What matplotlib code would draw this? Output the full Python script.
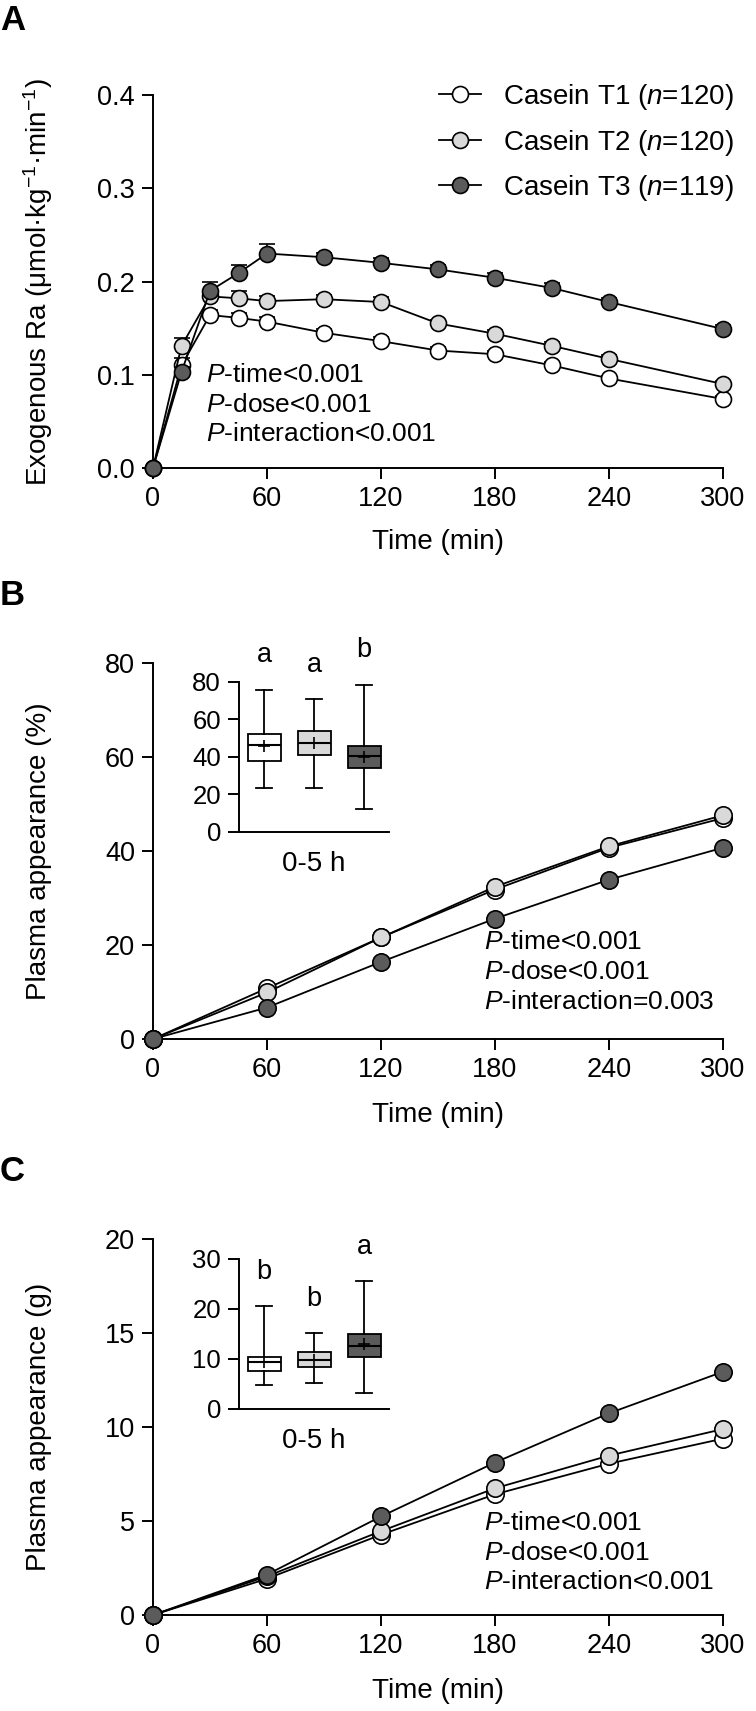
import matplotlib
matplotlib.use("Agg")
import matplotlib.pyplot as plt

plt.rcParams["font.family"] = ["Liberation Sans", "DejaVu Sans"]
plt.rcParams["mathtext.fontset"] = "custom"
plt.rcParams["mathtext.rm"] = "Liberation Sans"
plt.rcParams["mathtext.it"] = "Liberation Sans:italic"
plt.rcParams["mathtext.default"] = "regular"

# ---- data ----
groups = ["Casein T1", "Casein T2", "Casein T3"]
n_sizes = [120, 120, 119]
fills = ["#ffffff", "#d9d9d9", "#5b5b5b"]

# panel A: exogenous Ra
time_a = [0, 15, 30, 45, 60, 90, 120, 150, 180, 210, 240, 300]
ra_t1 = [0.0, 0.110, 0.164, 0.161, 0.157, 0.145, 0.136, 0.126, 0.122, 0.110, 0.096, 0.074]
ra_t2 = [0.0, 0.131, 0.184, 0.182, 0.179, 0.181, 0.178, 0.155, 0.144, 0.131, 0.117, 0.090]
ra_t3 = [0.0, 0.103, 0.190, 0.209, 0.230, 0.226, 0.220, 0.213, 0.204, 0.193, 0.178, 0.149]
sem_t1 = [0.0, 0.008, 0.005, 0.005, 0.005, 0.004, 0.004, 0.004, 0.004, 0.004, 0.003, 0.003]
sem_t2 = [0.0, 0.008, 0.005, 0.008, 0.005, 0.005, 0.005, 0.004, 0.004, 0.004, 0.004, 0.003]
sem_t3 = [0.0, 0.005, 0.009, 0.009, 0.010, 0.005, 0.005, 0.005, 0.005, 0.005, 0.004, 0.004]

# panels B and C: cumulative plasma appearance
time_bc = [0, 60, 120, 180, 240, 300]
pct_t1 = [0, 10.8, 21.6, 31.8, 40.7, 47.0]
pct_t2 = [0, 9.9, 21.6, 32.4, 41.0, 47.6]
pct_t3 = [0, 6.7, 16.4, 25.6, 33.9, 40.7]
gram_t1 = [0, 1.93, 4.27, 6.42, 8.05, 9.38]
gram_t2 = [0, 2.06, 4.46, 6.74, 8.48, 9.89]
gram_t3 = [0, 2.15, 5.24, 8.11, 10.73, 12.94]

# insets (0-5 h totals): whisker low, Q1, median, Q3, whisker high, mean
pct_box_lo = [23.7, 23.2, 12.5]
pct_box_q1 = [38.1, 41.3, 34.0]
pct_box_med = [46.3, 47.4, 40.3]
pct_box_q3 = [52.0, 53.6, 45.6]
pct_box_hi = [75.7, 70.7, 78.2]
pct_box_mean = [46.0, 47.2, 40.1]
pct_letters = ["a", "a", "b"]
pct_letter_y = [90.8, 85.5, 93.2]

gram_box_lo = [4.8, 5.3, 3.3]
gram_box_q1 = [7.7, 8.5, 10.4]
gram_box_med = [9.5, 9.8, 12.7]
gram_box_q3 = [10.5, 11.4, 15.1]
gram_box_hi = [20.7, 15.3, 25.6]
gram_box_mean = [9.4, 9.8, 13.0]
gram_letters = ["b", "b", "a"]
gram_letter_y = [26.0, 20.5, 31.0]

p_text_a = ["P-time<0.001", "P-dose<0.001", "P-interaction<0.001"]
p_text_b = ["P-time<0.001", "P-dose<0.001", "P-interaction=0.003"]
p_text_c = ["P-time<0.001", "P-dose<0.001", "P-interaction<0.001"]

W, H = 756, 1711
fig = plt.figure(figsize=(W / 100, H / 100), dpi=100)

LW = 1.4
TICK_FS = 19.5
MS_A = 11.5
MS_BC = 12.5


def px_axes(left, top, right, bottom):
    return fig.add_axes([left / W, 1 - bottom / H, (right - left) / W, (bottom - top) / H])


def style_axes(ax, fs=TICK_FS):
    for s in ["top", "right"]:
        ax.spines[s].set_visible(False)
    for s in ["left", "bottom"]:
        ax.spines[s].set_linewidth(LW)
    ax.tick_params(direction="out", length=8, width=LW, labelsize=fs, pad=5)


def p_lines(ax, x, y0, dy, lines):
    for i, t in enumerate(lines):
        head, rest = t.split("-", 1)
        ax.text(x, y0 - i * dy, r"$\mathit{%s}$-%s" % (head, rest),
                fontsize=19, va="center", ha="left")


# ---------------- panel A ----------------
axA = px_axes(153, 95, 723, 468)
style_axes(axA)
series_a = [(ra_t1, sem_t1), (ra_t2, sem_t2), (ra_t3, sem_t3)]
for i, (vals, sem) in enumerate(series_a):
    axA.errorbar(time_a, vals, yerr=[[0] * len(sem), sem], fmt="none", ecolor="black",
                 elinewidth=1.2, capsize=6, capthick=1.2, zorder=2 + i, clip_on=False)
    axA.plot(time_a, vals, "-o", color="black", lw=1.3, ms=MS_A, mfc=fills[i], mec="black",
             mew=1.2, zorder=3 + i, clip_on=False,
             label=r"%s ($\mathit{n}$=%d)" % (groups[i], n_sizes[i]))
axA.set_xlim(0, 300)
axA.set_ylim(0, 0.4)
axA.set_xticks([0, 60, 120, 180, 240, 300])
axA.set_yticks([0.0, 0.1, 0.2, 0.3, 0.4])
axA.set_yticklabels(["0.0", "0.1", "0.2", "0.3", "0.4"])
axA.set_xlabel("Time (min)", fontsize=20, labelpad=12)
axA.set_ylabel(r"Exogenous Ra (μmol·kg$^{-1}$·min$^{-1}$)", fontsize=20)
axA.yaxis.label.set_verticalalignment("center")
axA.yaxis.set_label_coords((38 - 153) / 570, 0.5)
p_lines(axA, 28, 0.100, 0.032, p_text_a)
axA.legend(loc="upper right", bbox_to_anchor=(1.0, 1 - 60 / H), bbox_transform=fig.transFigure,
           frameon=False, fontsize=20, handlelength=1.5, handletextpad=0.8,
           labelspacing=0.55, borderpad=0.3)

# ---------------- panels B and C ----------------
def cumulative_panel(top, bottom, ymax, ystep, t1, t2, t3, ylabel):
    ax = px_axes(153, top, 723, bottom)
    style_axes(ax)
    for i, vals in enumerate([t1, t2, t3]):
        ax.plot(time_bc, vals, "-o", color="black", lw=1.3, ms=MS_BC, mfc=fills[i], mec="black",
                mew=1.2, zorder=3 + i, clip_on=False)
    ax.set_xlim(0, 300)
    ax.set_ylim(0, ymax)
    ax.set_xticks([0, 60, 120, 180, 240, 300])
    ax.set_yticks(list(range(0, ymax + 1, ystep)))
    ax.set_xlabel("Time (min)", fontsize=20, labelpad=14)
    ax.set_ylabel(ylabel, fontsize=20)
    ax.yaxis.label.set_verticalalignment("center")
    ax.yaxis.set_label_coords((39 - 153) / 570, 0.5)
    return ax


def box_inset(top, bottom, ymax, ystep, lo, q1, med, q3, hi, mean, letters, letter_y):
    ax = px_axes(239, top, 389, bottom)
    style_axes(ax, fs=18.5)
    stats = []
    for i in range(3):
        stats.append({"whislo": lo[i], "q1": q1[i], "med": med[i], "q3": q3[i],
                      "whishi": hi[i], "mean": mean[i]})
    bp = ax.bxp(stats, positions=[1, 2, 3], widths=0.66, showmeans=True, showfliers=False,
                patch_artist=True,
                boxprops=dict(linewidth=1.3, edgecolor="black"),
                medianprops=dict(color="black", linewidth=1.5),
                whiskerprops=dict(linewidth=1.3),
                capprops=dict(linewidth=1.3),
                meanprops=dict(marker="+", markersize=8, markeredgecolor="black",
                               markeredgewidth=1.2))
    for patch, c in zip(bp["boxes"], fills):
        patch.set_facecolor(c)
    for i, (lab, ly) in enumerate(zip(letters, letter_y)):
        ax.text(i + 1, ly, lab, fontsize=19.5, ha="center", va="baseline", clip_on=False)
    ax.set_xlim(0.5, 3.5)
    ax.set_ylim(0, ymax)
    ax.set_yticks(list(range(0, ymax + 1, ystep)))
    ax.tick_params(axis="x", bottom=False, labelbottom=False)
    ax.set_xlabel("0-5 h", fontsize=20, labelpad=14)
    ax.patch.set_alpha(0)
    return ax


axB = cumulative_panel(663, 1039, 80, 20, pct_t1, pct_t2, pct_t3, "Plasma appearance (%)")
p_lines(axB, 174, 20.7, 6.4, p_text_b)
box_inset(682, 832, 80, 20, pct_box_lo, pct_box_q1, pct_box_med, pct_box_q3, pct_box_hi,
          pct_box_mean, pct_letters, pct_letter_y)

axC = cumulative_panel(1239, 1615, 20, 5, gram_t1, gram_t2, gram_t3, "Plasma appearance (g)")
p_lines(axC, 174, 4.9, 1.58, p_text_c)
box_inset(1259, 1409, 30, 10, gram_box_lo, gram_box_q1, gram_box_med, gram_box_q3, gram_box_hi,
          gram_box_mean, gram_letters, gram_letter_y)

# panel letters
for lab, base in [("A", 30), ("B", 605), ("C", 1181)]:
    fig.text(0.0, 1 - base / H, lab, fontsize=25, fontweight="bold", ha="left", va="baseline")

fig.savefig("out.png", dpi=100)
